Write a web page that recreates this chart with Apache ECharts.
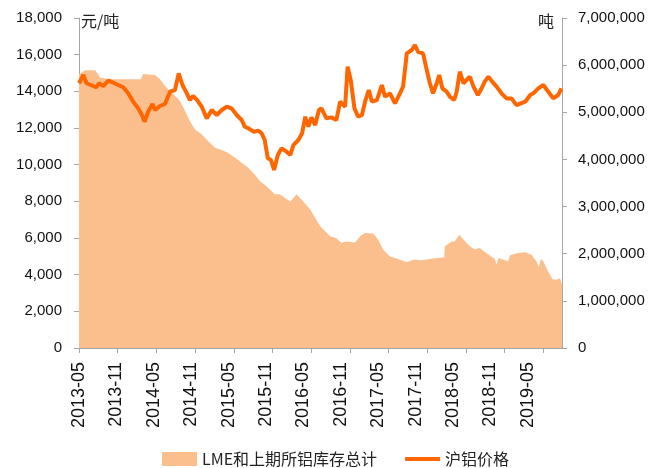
<!DOCTYPE html>
<html>
<head>
<meta charset="utf-8">
<script src="https://cdn.jsdelivr.net/npm/echarts@6/dist/echarts.min.js"></script>
<style>
  html, body { margin: 0; padding: 0; background: #fff; }
  #main { width: 661px; height: 468px; }
</style>
</head>
<body>
<div id="main"></div>
<script>
// x 方向用 “距 2013-05 的月数”
var xLabels = ['2013-05', '2013-11', '2014-05', '2014-11', '2015-05', '2015-11', '2016-05',
    '2016-11', '2017-05', '2017-11', '2018-05', '2018-11', '2019-05'];

// 沪铝价格 (元/吨)
var priceMonths = [0, 0.7, 1.2, 2.3, 2.8, 3.2, 3.9, 4.7, 5.5, 6.3, 7.1, 7.9, 8.7, 9.5, 10.1, 10.5,
    11.1, 11.8, 12.2, 13.0, 13.8, 14.6, 15.4, 16.0, 16.6, 17.3, 17.8, 18.3, 18.9, 19.7, 20.5,
    21.3, 22.1, 22.9, 23.7, 24.5, 25.3, 26.1, 26.6, 27.2, 28.0, 28.8, 29.3, 29.8, 30.3, 30.8,
    31.3, 31.9, 32.5, 33.3, 33.9, 34.4, 35.2, 35.8, 36.3, 36.8, 37.3, 37.9, 38.5, 38.9, 39.7,
    40.5, 41.3, 41.9, 42.7, 43.1, 43.6, 44.2, 44.8, 45.4, 45.9, 46.5, 47.0, 47.8, 48.6, 49.1,
    49.9, 50.7, 51.5, 52.0, 52.6, 53.4, 53.9, 54.4, 55.2, 55.8, 56.3, 56.8, 57.4, 57.8, 58.3,
    59.0, 59.5, 60.2, 60.6, 61.1, 61.7, 62.2, 62.7, 63.3, 64.0, 64.6, 65.1, 65.7, 66.3, 67.0,
    67.8, 68.6, 69.4, 70.2, 70.9, 71.6, 72.4, 72.9, 73.7, 74.5, 75.3, 76.1, 76.9, 77.4];
var priceValues = [14440, 14890, 14440, 14290, 14220, 14440, 14290, 14580, 14470, 14345, 14220,
    13890, 13435, 13070, 12710, 12345, 12890, 13310, 12980, 13200, 13310, 13980, 14070, 14980,
    14345, 13890, 13525, 13745, 13550, 13160, 12525, 12980, 12710, 12980, 13160, 13070, 12710,
    12435, 12070, 11980, 11800, 11855, 11710, 11345, 10345, 10255, 9710, 10527, 10890, 10710,
    10527, 11070, 11345, 11710, 12615, 12070, 12580, 12160, 12980, 13070, 12525, 12580, 12435,
    13435, 13160, 15345, 14620, 13070, 12615, 12710, 13435, 14070, 13435, 13525, 14345, 13710,
    13890, 13345, 13890, 14255, 16070, 16255, 16525, 16160, 16070, 15160, 14440, 13890, 14440,
    14890, 14165, 13980, 13710, 13525, 13980, 15070, 14440, 14620, 14800, 14255, 13800, 14165,
    14530, 14800, 14530, 14255, 13890, 13615, 13615, 13250, 13345, 13435, 13800, 13890, 14165,
    14345, 13980, 13615, 13800, 14165];

// LME和上期所铝库存总计 (吨)
var stockMonths = [0, 1.0, 2.6, 3.4, 3.9, 5.0, 6.3, 9.9, 10.3, 12.2, 13.0, 13.8, 14.6, 15.4, 16.2,
    17.0, 17.8, 18.6, 19.7, 20.7, 21.8, 22.9, 23.9, 25.0, 26.1, 27.2, 28.2, 29.0, 30.1, 31.4,
    32.2, 33.9, 34.9, 35.7, 37.1, 38.7, 40.3, 41.3, 42.1, 42.9, 44.3, 45.1, 45.9, 47.2, 48.0,
    48.8, 49.9, 51.2, 52.6, 53.6, 55.0, 56.3, 57.4, 58.6, 58.7, 59.8, 60.3, 61.0, 61.7, 62.7,
    63.5, 64.3, 65.4, 66.7, 67.0, 67.3, 68.1, 68.9, 69.1, 70.2, 71.6, 72.6, 73.4, 73.8, 74.1,
    74.5, 75.3, 76.0, 76.6, 77.2, 77.5];
var stockValues = [5810000, 5890000, 5890000, 5740000, 5720000, 5700000, 5700000, 5700000,
    5810000, 5790000, 5700000, 5560000, 5450000, 5350000, 5240000, 5030000, 4810000, 4640000,
    4530000, 4390000, 4250000, 4200000, 4140000, 4040000, 3930000, 3820000, 3680000, 3540000,
    3430000, 3260000, 3260000, 3110000, 3260000, 3150000, 2940000, 2580000, 2370000, 2330000,
    2230000, 2260000, 2240000, 2370000, 2440000, 2430000, 2300000, 2090000, 1940000, 1890000,
    1820000, 1870000, 1860000, 1890000, 1910000, 1920000, 2160000, 2260000, 2260000, 2400000,
    2300000, 2160000, 2090000, 2120000, 2010000, 1890000, 1770000, 1910000, 1870000, 1840000,
    1960000, 2010000, 2030000, 1980000, 1840000, 1720000, 1890000, 1840000, 1620000, 1460000,
    1450000, 1480000, 1340000];

var stockName = 'LME和上期所铝库存总计';
var priceName = '沪铝价格';

function pairs(xs, ys) {
    return xs.map(function (x, i) { return [x, ys[i]]; });
}

var numFont = '"Liberation Sans", Arial, sans-serif';
var cjkFont = '"Noto Sans CJK SC", sans-serif';
var axisGray = '#a6a6a6';

var labelMonths = xLabels.map(function (s, i) { return i * 6; });
var tickMonths = [];
for (var k = 0; k <= 12; k++) tickMonths.push(k * 6.21);

function addCommas(v) {
    return String(v).replace(/\B(?=(\d{3})+(?!\d))/g, ',');
}

var chart = echarts.init(document.getElementById('main'));

chart.setOption({
    animation: false,
    grid: { left: 79, right: 99, top: 18, bottom: 120 },
    legend: {
        left: 157,
        top: 446,
        itemWidth: 35,
        itemHeight: 14,
        itemGap: 28,
        symbolKeepAspect: true,
        textStyle: { fontFamily: cjkFont, fontSize: 16, color: '#222' },
        data: [
            { name: stockName, icon: 'rect' },
            // 细长条当作线段图例
            { name: priceName, icon: 'path://M0,0 L35,0 L35,4 L0,4 Z' }
        ]
    },
    xAxis: {
        type: 'value',
        min: 0,
        max: 77.5,
        splitLine: { show: false },
        axisLine: { show: true, lineStyle: { color: axisGray, width: 1 } },
        axisTick: {
            show: true,
            customValues: tickMonths,
            length: 5,
            lineStyle: { color: axisGray }
        },
        axisLabel: {
            customValues: labelMonths,
            rotate: 90,
            margin: 14,
            fontFamily: numFont,
            fontSize: 18,
            color: '#111',
            formatter: function (v) { return xLabels[Math.round(v / 6)]; }
        }
    },
    yAxis: [{
        type: 'value',
        min: 0,
        max: 18000,
        interval: 2000,
        name: '元/吨',
        nameLocation: 'end',
        nameGap: -3,
        nameTextStyle: {
            fontFamily: cjkFont, fontSize: 16, color: '#222',
            align: 'left', verticalAlign: 'middle', padding: [0, 0, 0, 2]
        },
        splitLine: { show: false },
        axisLine: { show: true, lineStyle: { color: axisGray } },
        axisTick: { show: true, length: 5, lineStyle: { color: axisGray } },
        axisLabel: {
            margin: 17,
            fontFamily: numFont,
            fontSize: 15,
            color: '#111',
            formatter: addCommas
        }
    }, {
        type: 'value',
        position: 'right',
        min: 0,
        max: 7000000,
        interval: 1000000,
        name: '吨',
        nameLocation: 'end',
        nameGap: -3,
        nameTextStyle: {
            fontFamily: cjkFont, fontSize: 16, color: '#222',
            align: 'right', verticalAlign: 'middle', padding: [0, 8, 0, 0]
        },
        splitLine: { show: false },
        axisLine: { show: true, lineStyle: { color: axisGray } },
        axisTick: { show: true, length: 5, lineStyle: { color: axisGray } },
        axisLabel: {
            margin: 16,
            fontFamily: numFont,
            fontSize: 15,
            color: '#111',
            formatter: addCommas
        }
    }],
    series: [{
        name: stockName,
        type: 'line',
        yAxisIndex: 1,
        data: pairs(stockMonths, stockValues),
        symbol: 'none',
        itemStyle: { color: '#fbbf8e' },
        lineStyle: { width: 0, color: '#fbbf8e' },
        areaStyle: { color: '#fbbf8e', opacity: 1 },
        z: 1
    }, {
        name: priceName,
        type: 'line',
        yAxisIndex: 0,
        data: pairs(priceMonths, priceValues),
        symbol: 'none',
        itemStyle: { color: '#ff6600' },
        lineStyle: { width: 4, color: '#ff6600' },
        z: 3
    }]
});
</script>
</body>
</html>
